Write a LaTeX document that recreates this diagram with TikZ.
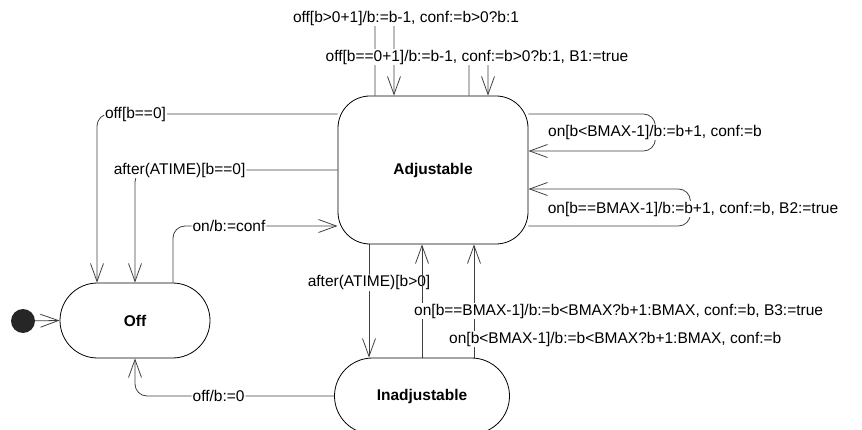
\documentclass[tikz,border=0pt]{standalone}
\usepackage{fontspec}
\setmainfont{Liberation Sans}
\usetikzlibrary{arrows.meta,backgrounds}

\begin{document}
\begin{tikzpicture}[x=1pt,y=-1pt,font=\fontsize{15.5}{18}\selectfont]
\tikzstyle{st1}=[rectangle,draw=black,fill=white,line width=0.8pt,font=\fontsize{15.5}{18}\selectfont\bfseries]
\tikzstyle{sta}=[st1,minimum width=190pt,minimum height=148pt,rounded corners=32pt]
\tikzstyle{sto}=[st1,minimum width=150pt,minimum height=75pt,rounded corners=37.5pt]
\tikzstyle{sti}=[st1,minimum width=175pt,minimum height=76pt,rounded corners=38pt]
\tikzstyle{txtonly}=[fill=white,inner sep=1pt]
\tikzstyle{tr}=[draw=black!75,line width=0.8pt,rounded corners=12pt,-{Straight Barb[length=18pt,width=13pt]}]
\tikzstyle{trs}=[tr,rounded corners=5pt]
\useasboundingbox (0,0) rectangle (862,430);
\node (adj) [sta] at (433,170) {Adjustable};
\node (off) [sto] at (135,320.5) {Off};
\node (inad) [sti] at (422,396) {Inadjustable};
\node (init) [circle,fill=black!85,minimum size=24pt,inner sep=0pt] at (23,321) {};
\begin{scope}[on background layer]
% self loops on top
\draw[trs] ([xshift=-58pt]adj.north) -- ++(0,-78) -| ([xshift=-39pt]adj.north);
\node (l1) [txtonly] at (406,18) {off[b>0+1]/b:=b-1, conf:=b>0?b:1};
\draw[trs] ([xshift=36pt]adj.north) -- ++(0,-39) -| ([xshift=55pt]adj.north);
\node (l2) [txtonly] at (477,57) {off[b==0+1]/b:=b-1, conf:=b>0?b:1, B1:=true};
% self loops on the right
\draw[tr] ([yshift=56pt]adj.east) -- ++(127,0) |- ([yshift=19pt]adj.east);
\node (l3) [txtonly] at (655,132) {on[b<BMAX-1]/b:=b+1, conf:=b};
\draw[tr] ([yshift=-56pt]adj.east) -- ++(162,0) |- ([yshift=-19pt]adj.east);
\node (l4) [txtonly] at (693,209) {on[b==BMAX-1]/b:=b+1, conf:=b, B2:=true};
% to and from off
\draw[tr] ([yshift=56pt]adj.west) -| ([xshift=-38pt]off.north) node[txtonly,pos=0.42] {off[b==0]};
\draw[tr] (adj.west) -| (off.north) node[txtonly,pos=0.39] {after(ATIME)[b==0]};
\draw[tr] ([xshift=38pt]off.north) |- ([yshift=-56pt]adj.west) node[txtonly,pos=0.67] {on/b:=conf};
% between adjustable and inadjustable
\draw[tr] ([xshift=-64pt]adj.south) -- ([xshift=-53pt]inad.north) node[txtonly,pos=0.34] {after(ATIME)[b>0]};
\draw[tr] (inad.north) -- ([xshift=-11pt]adj.south);
\draw[tr] ([xshift=52pt]inad.north) -- ([xshift=41pt]adj.south);
\node (l5) [txtonly,anchor=west] at (413,311) {on[b==BMAX-1]/b:=b<BMAX?b+1:BMAX, conf:=b, B3:=true};
\node (l6) [txtonly,anchor=west] at (448,339) {on[b<BMAX-1]/b:=b<BMAX?b+1:BMAX, conf:=b};
\draw[tr] (inad.west) -| (off.south) node[txtonly,pos=0.29] {off/b:=0};
\draw[tr] (init) -- (off.west);
\end{scope}
\end{tikzpicture}
\end{document}
